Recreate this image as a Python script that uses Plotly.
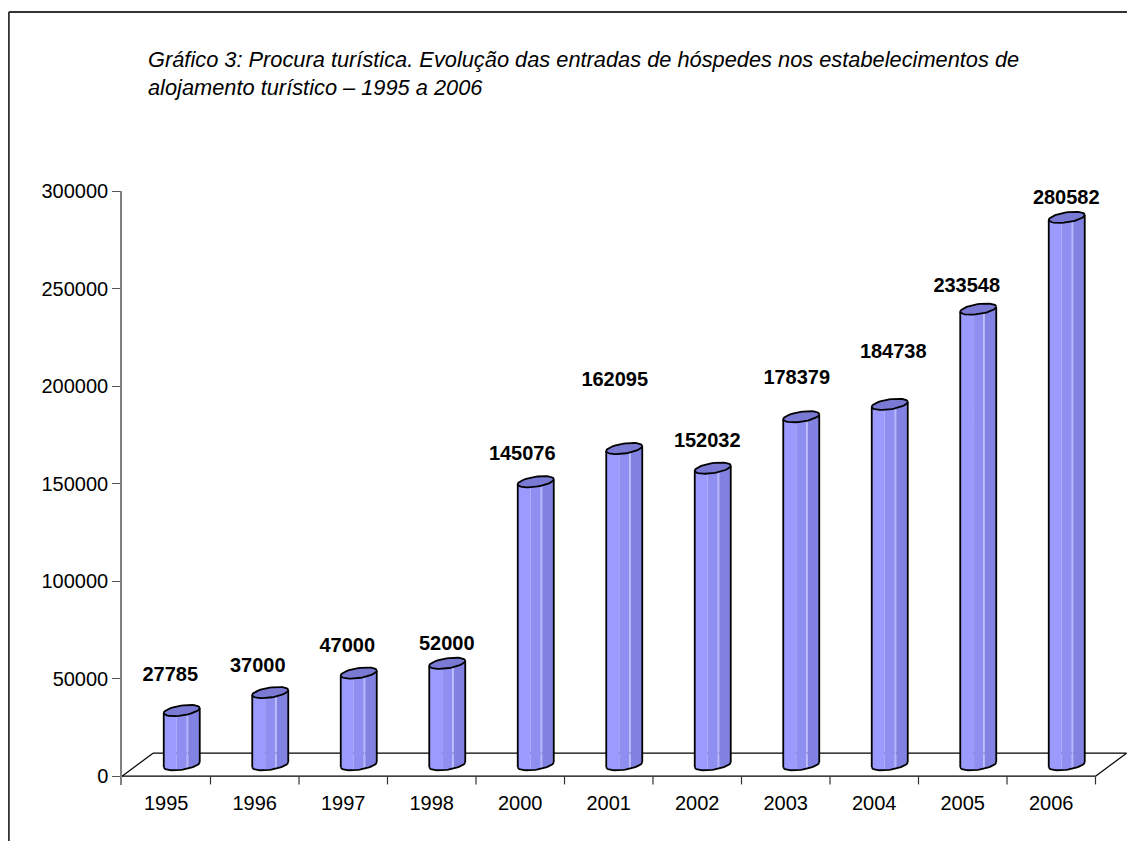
import numpy as np
import plotly.graph_objects as go

# ---------------- data ----------------
years = ['1995', '1996', '1997', '1998', '2000', '2001', '2002', '2003', '2004', '2005', '2006']
guests = [27785, 37000, 47000, 52000, 145076, 162095, 152032, 178379, 184738, 233548, 280582]
y_tick_values = [0, 50000, 100000, 150000, 200000, 250000, 300000]
y_tick_labels = ['0', '50000', '100000', '150000', '200000', '250000', '300000']
title_lines = ['Gráfico 3: Procura turística. Evolução das entradas de hóspedes nos estabelecimentos de',
               'alojamento turístico – 1995 a 2006']

# ---------------- style / geometry ----------------
# page has an 8px body margin, so the figure is placed at (8, 8)
W, H = 1127, 833
ML, MR, MT, MB = 114, 5, 183, 56
CAT_PX = 88.5
Y_MIN, Y_MAX = -4500, 300000
plot_w = W - ML - MR
plot_h = H - MT - MB
X_MIN = -0.5
X_MAX = X_MIN + plot_w / CAT_PX
PX_X = 1.0 / CAT_PX                      # data units per pixel (x)
PX_Y = (Y_MAX - Y_MIN) / plot_h          # data units per pixel (y)

DEPTH_X = 31 * PX_X
DEPTH_Y = 23 * PX_Y
RX = 18 * PX_X
RY = 5 * PX_Y
TILT = 2.5 * PX_Y
BASE = DEPTH_Y / 2
SHIFT = DEPTH_X / 2

LABEL_LIFT_PX = [46, 37, 38, 30, 38, 79, 38, 49, 63, 34, 30]
LABEL_DX_PX = [4, 3, 4, 15, 2, 6, 10, 11, 19, 4, 15]

STRIPES = [(0.00, 0.36, '#9b9bff'),
           (0.36, 0.64, '#8f8ff2'),
           (0.64, 0.68, '#b4b4ff'),
           (0.68, 1.00, '#8282e2')]
TOP_COLOR = '#7a7ad4'
OUTLINE = '#000000'
FONT = 'Liberation Sans, Arial, sans-serif'

fig = go.Figure()

# ---------------- floor ----------------
n = len(years)
fx, fy = [], []
fx += [X_MIN, n - 0.5, None, X_MIN + DEPTH_X, n - 0.5 + DEPTH_X, None,
       X_MIN, X_MIN + DEPTH_X, None, n - 0.5, n - 0.5 + DEPTH_X, None]
fy += [0, 0, None, DEPTH_Y, DEPTH_Y, None, 0, DEPTH_Y, None, 0, DEPTH_Y, None]
fig.add_trace(go.Scatter(x=fx, y=fy, mode='lines', line=dict(color='#000000', width=1.2),
                         hoverinfo='skip', showlegend=False))
# category boundary tick marks
tx, ty = [], []
for k in range(1, n + 1):
    tx += [k - 0.5, k - 0.5, None]
    ty += [0, -4200, None]
fig.add_trace(go.Scatter(x=tx, y=ty, mode='lines', line=dict(color='#333333', width=1.2),
                         hoverinfo='skip', showlegend=False))

# ---------------- cylinders ----------------
def ell(cx, cy, t):
    return cx + RX * np.cos(t), cy + RY * np.sin(t) + TILT * np.cos(t)

stripe_traces = {c: ([], []) for _, _, c in STRIPES}
ox, oy = [], []
topx, topy = [], []
for i, v in enumerate(guests):
    cx = i + SHIFT
    cb = BASE
    ct = v + BASE
    for u1, u2, col in STRIPES:
        s = np.linspace(np.arccos(1 - 2 * u1), np.arccos(1 - 2 * u2), 10)
        t = np.pi + s
        bx, by = ell(cx, cb, t)
        ux, uy = ell(cx, ct, t[::-1])
        xs, ys = stripe_traces[col]
        xs += list(bx) + list(ux) + [bx[0], None]
        ys += list(by) + list(uy) + [by[0], None]
    lx, ly_b = ell(cx, cb, np.pi)
    _, ly_t = ell(cx, ct, np.pi)
    rx_, ry_b = ell(cx, cb, 0.0)
    _, ry_t = ell(cx, ct, 0.0)
    ox += [lx, lx, None, rx_, rx_, None]
    oy += [ly_b, ly_t, None, ry_b, ry_t, None]
    t = np.linspace(np.pi, 2 * np.pi, 30)
    bx, by = ell(cx, cb, t)
    ox += list(bx) + [None]
    oy += list(by) + [None]
    t = np.linspace(0, 2 * np.pi, 48)
    ex, ey = ell(cx, ct, t)
    topx += list(ex) + [None]
    topy += list(ey) + [None]

for _, _, col in STRIPES:
    xs, ys = stripe_traces[col]
    fig.add_trace(go.Scatter(x=xs, y=ys, mode='lines', fill='toself', fillcolor=col,
                             line=dict(width=0, color=col), hoverinfo='skip', showlegend=False))
fig.add_trace(go.Scatter(x=ox, y=oy, mode='lines', line=dict(color=OUTLINE, width=1.8),
                         hoverinfo='skip', showlegend=False))
fig.add_trace(go.Scatter(x=topx, y=topy, mode='lines', fill='toself', fillcolor=TOP_COLOR,
                         line=dict(color=OUTLINE, width=1.8), hoverinfo='skip', showlegend=False))

# ---------------- value labels ----------------
lab_x = [i + d * PX_X for i, d in enumerate(LABEL_DX_PX)]
lab_y = [v + l * PX_Y for v, l in zip(guests, LABEL_LIFT_PX)]
fig.add_trace(go.Scatter(x=lab_x, y=lab_y, mode='text', text=[f'<b>{v}</b>' for v in guests],
                         textposition='middle center', cliponaxis=False,
                         textfont=dict(family=FONT, size=20, color='#000000'),
                         hoverinfo='skip', showlegend=False))

# ---------------- title & frame ----------------
fig.add_annotation(xref='paper', yref='paper', x=(138 - ML) / plot_w, y=1 + (MT - 37) / plot_h,
                   xanchor='left', yanchor='top', align='left', showarrow=False,
                   text='<i>' + '<br>'.join(title_lines) + '</i>',
                   font=dict(family='Liberation Sans Narrow, Arial Narrow, Liberation Sans, Arial',
                             size=21.8, color='#000000'))

fx0 = (0.8 - ML) / plot_w
fy0 = 1 + (MT - 4) / plot_h
fig.add_shape(type='line', xref='paper', yref='paper', x0=fx0, y0=fy0, x1=1.05, y1=fy0,
              line=dict(color='#333333', width=2))
fig.add_shape(type='line', xref='paper', yref='paper', x0=fx0, y0=fy0, x1=fx0, y1=-0.2,
              line=dict(color='#333333', width=2))

fig.update_layout(
    width=W, height=H, margin=dict(l=ML, r=MR, t=MT, b=MB, autoexpand=False),
    paper_bgcolor='white', plot_bgcolor='white', showlegend=False,
    xaxis=dict(range=[X_MIN, X_MAX], tickmode='array', tickvals=list(range(n)), ticktext=years,
               ticks='', showline=False, showgrid=False, zeroline=False,
               tickfont=dict(family=FONT, size=20, color='#000000'), ticklabelstandoff=4),
    yaxis=dict(range=[Y_MIN, Y_MAX], tickmode='array', tickvals=y_tick_values, ticktext=y_tick_labels,
               ticks='outside', ticklen=8, tickcolor='#555555', tickwidth=1.2,
               showline=True, linecolor='#808080', linewidth=1.5,
               showgrid=False, zeroline=False,
               tickfont=dict(family=FONT, size=20, color='#000000')),
)

fig.write_html('out.html')
